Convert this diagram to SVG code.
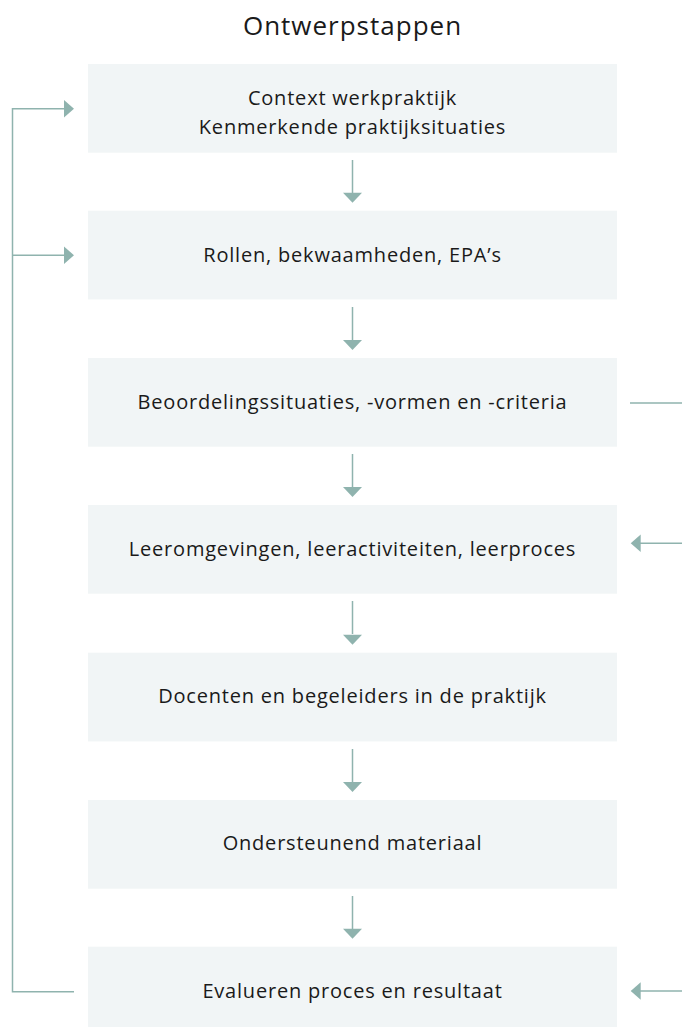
<svg xmlns="http://www.w3.org/2000/svg" width="682" height="1027" viewBox="0 0 682 1027">
<style>
.box{fill:#f1f5f6}
.t{font-family:"Open Sans","Noto Sans",sans-serif;font-size:20px;letter-spacing:0.8px;fill:#1a1a1a;text-anchor:middle}
.title{font-family:"Open Sans","Noto Sans",sans-serif;font-size:26px;letter-spacing:1px;fill:#1a1a1a;text-anchor:middle}
.ln{stroke:#8fb3ae;stroke-width:1.5;fill:none}
.ah{fill:#8fb3ae}
</style>
<rect width="682" height="1027" fill="#ffffff"/>
<text class="title" x="352.5" y="35">Ontwerpstappen</text>
<g id="n1"><rect class="box" x="88" y="64" width="529" height="88.7"/><text class="t" x="352.5" y="105">Context werkpraktijk</text><text class="t" x="352.5" y="134">Kenmerkende praktijksituaties</text></g>
<g id="n2"><rect class="box" x="88" y="210.7" width="529" height="88.7"/><text class="t" x="352.5" y="262">Rollen, bekwaamheden, EPA’s</text></g>
<g id="n3"><rect class="box" x="88" y="358" width="529" height="88.7"/><text class="t" x="352.5" y="409">Beoordelingssituaties, -vormen en -criteria</text></g>
<g id="n4"><rect class="box" x="88" y="505" width="529" height="88.7"/><text class="t" x="352.5" y="556">Leeromgevingen, leeractiviteiten, leerproces</text></g>
<g id="n5"><rect class="box" x="88" y="652.7" width="529" height="88.7"/><text class="t" x="352.5" y="703">Docenten en begeleiders in de praktijk</text></g>
<g id="n6"><rect class="box" x="88" y="800" width="529" height="88.7"/><text class="t" x="352.5" y="850">Ondersteunend materiaal</text></g>
<g id="n7"><rect class="box" x="88" y="946.7" width="529" height="88.7"/><text class="t" x="352.5" y="998">Evalueren proces en resultaat</text></g>
<g id="connectors">
<path class="ln" d="M352.5 160V193"/><polygon class="ah" points="343,192.7 362,192.7 352.5,202.7"/>
<path class="ln" d="M352.5 307V340"/><polygon class="ah" points="343,340 362,340 352.5,350"/>
<path class="ln" d="M352.5 454V487"/><polygon class="ah" points="343,487 362,487 352.5,497"/>
<path class="ln" d="M352.5 601V634"/><polygon class="ah" points="343,634.7 362,634.7 352.5,644.7"/>
<path class="ln" d="M352.5 749V782"/><polygon class="ah" points="343,782 362,782 352.5,792"/>
<path class="ln" d="M352.5 896V929"/><polygon class="ah" points="343,928.7 362,928.7 352.5,938.7"/>
<path class="ln" d="M74 991.7H12.5V108.7H65"/><polygon class="ah" points="64,100 64,117.4 74,108.7"/>
<path class="ln" d="M12.5 255.3H65"/><polygon class="ah" points="64,246.6 64,264 74,255.3"/>
<path class="ln" d="M630 403H682"/>
<path class="ln" d="M640 543.3H682"/><polygon class="ah" points="640.7,534.6 640.7,552 630.7,543.3"/>
<path class="ln" d="M640 991H682"/><polygon class="ah" points="640.7,982.3 640.7,999.7 630.7,991"/>
</g>
</svg>
